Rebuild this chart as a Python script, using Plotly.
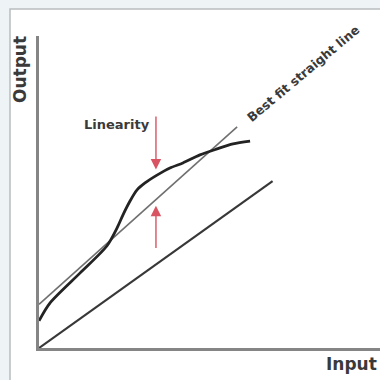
import numpy as np
import plotly.graph_objects as go

# Measured transducer response (input vs output, arbitrary units)
input_curve = [0.0, 0.32, 1.20, 1.99, 2.29, 2.46, 2.67, 2.87, 3.11, 3.46, 3.84, 4.22, 4.72, 5.22, 5.69, 6.19]
output_curve = [0.87, 1.44, 2.40, 3.27, 3.85, 4.26, 4.71, 5.06, 5.29, 5.54, 5.77, 5.93, 6.19, 6.38, 6.54, 6.63]

# Best fit straight line through the response
fit_input = [0.0, 5.81]
fit_output = [1.40, 7.09]

# Ideal (proportional) response
ideal_input = [0.0, 6.85]
ideal_output = [0.0, 5.35]

# Where the linearity deviation is marked
linearity_x = 3.43

W, H = 380, 380
L, R, T, B = 39, 0, 36, 32
PW, PH = W - L - R, H - T - B


def px_x(px):
    return (px - L) / PW


def px_y(py):
    return (H - B - py) / PH


fig = go.Figure()

fig.add_trace(go.Scatter(x=ideal_input, y=ideal_output, mode="lines",
                         line=dict(color="#383838", width=2.2), hoverinfo="skip"))
fig.add_trace(go.Scatter(x=fit_input, y=fit_output, mode="lines",
                         line=dict(color="#707070", width=1.6), hoverinfo="skip"))
fig.add_trace(go.Scatter(x=input_curve, y=output_curve, mode="lines",
                         line=dict(color="#232323", width=2.8, shape="spline", smoothing=0.8),
                         hoverinfo="skip"))

# Deviation arrows between the curve and the fitted line
curve_at = float(np.interp(linearity_x, input_curve, output_curve))
slope = (fit_output[1] - fit_output[0]) / (fit_input[1] - fit_input[0])
fit_at = fit_output[0] + slope * linearity_x

arrow_style = dict(showarrow=True, arrowhead=2, arrowsize=1.5, arrowwidth=1.4,
                   arrowcolor="#d85462", text="", xref="x", yref="y", axref="x", ayref="y")
annotations = [
    dict(x=linearity_x, y=curve_at + 0.2, ax=linearity_x, ay=curve_at + 1.95, **arrow_style),
    dict(x=linearity_x, y=fit_at - 0.2, ax=linearity_x, ay=fit_at - 1.6, **arrow_style),
]

text_font = dict(family="DejaVu Sans", color="#3a3a3a")
label_style = dict(xref="paper", yref="paper", showarrow=False,
                   xanchor="center", yanchor="middle")
annotations += [
    dict(text="<b>Linearity</b>", x=px_x(117), y=px_y(124),
         font=dict(size=13, **text_font), **label_style),
    dict(text="<b>Best fit straight line</b>", x=px_x(303), y=px_y(73), textangle=-40,
         font=dict(size=12.5, **text_font), **label_style),
    dict(text="<b>Output</b>", x=px_x(20), y=px_y(70), textangle=-90,
         font=dict(size=17, **text_font), **label_style),
    dict(text="<b>Input</b>", x=px_x(351), y=px_y(364),
         font=dict(size=17, **text_font), **label_style),
]

# Panel frame
shapes = [
    dict(type="rect", xref="paper", yref="paper", layer="below",
         x0=px_x(10), x1=px_x(383), y0=px_y(383), y1=px_y(9),
         line=dict(color="#b9bdbf", width=1.5), fillcolor="white"),
]

axis_common = dict(showline=True, linecolor="#858585", linewidth=3, showgrid=False,
                   zeroline=False, showticklabels=False, ticks="", fixedrange=True)

fig.update_layout(
    width=W, height=H, autosize=False,
    margin=dict(l=L, r=R, t=T, b=B, pad=0),
    paper_bgcolor="#eef3f6", plot_bgcolor="white",
    showlegend=False,
    xaxis=dict(range=[0, 10], **axis_common),
    yaxis=dict(range=[0, 10], **axis_common),
    annotations=annotations,
    shapes=shapes,
)

fig.write_html("out.html")
